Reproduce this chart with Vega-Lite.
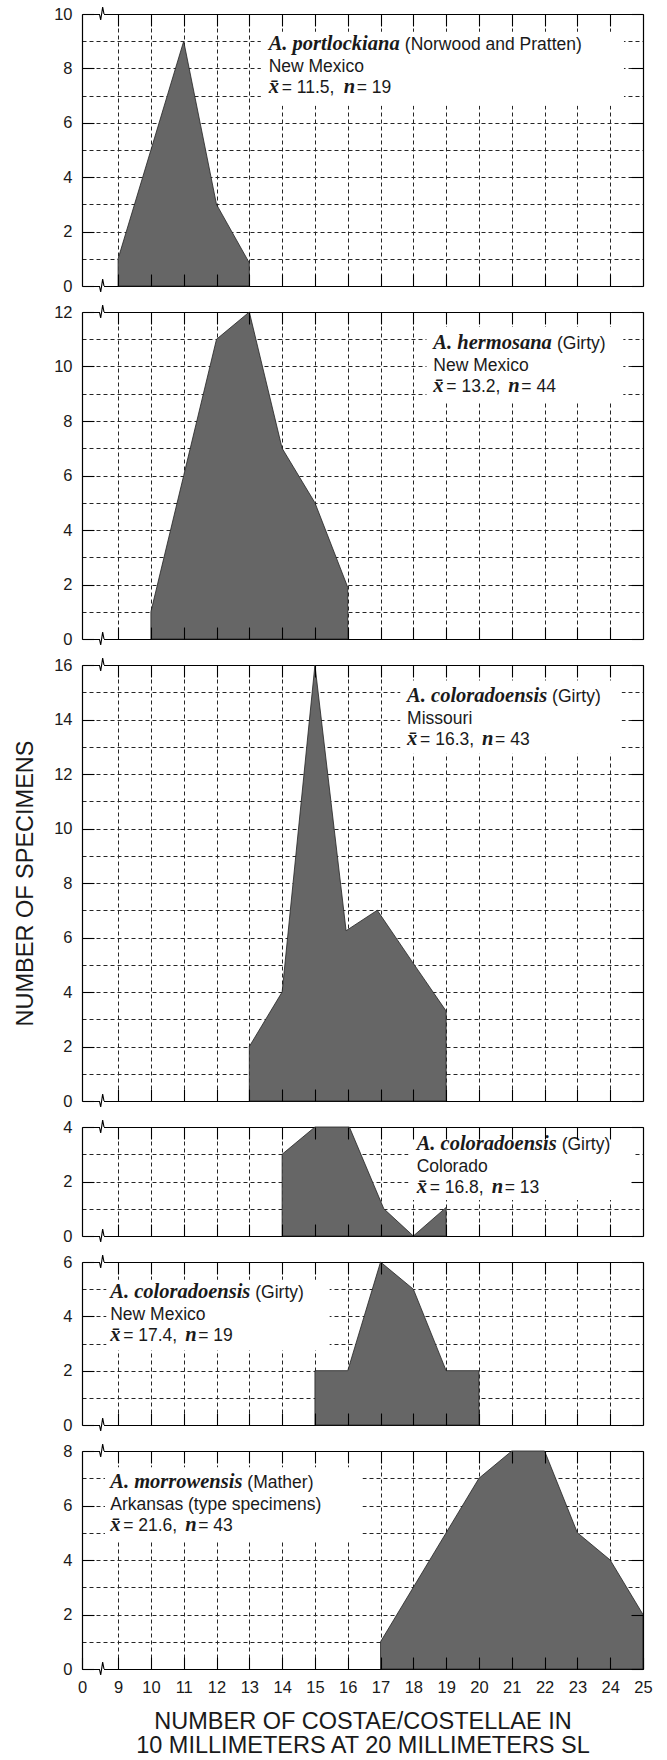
{
 "$schema": "https://vega.github.io/schema/vega-lite/v6.json",
 "background": "white",
 "padding": {"left": 13, "top": 5, "right": 5, "bottom": 5},
 "spacing": 26,
 "bounds": "flush",
 "datasets": {
  "dist": [
   {"p":1,"x":9,"c":1},{"p":1,"x":10,"c":5},{"p":1,"x":11,"c":9},{"p":1,"x":12,"c":3},{"p":1,"x":13,"c":0.85},
   {"p":2,"x":10,"c":1},{"p":2,"x":11,"c":6},{"p":2,"x":12,"c":11},{"p":2,"x":13,"c":12},{"p":2,"x":14,"c":7},{"p":2,"x":15,"c":5},{"p":2,"x":16,"c":1.9},
   {"p":3,"x":13,"c":2},{"p":3,"x":14,"c":4},{"p":3,"x":15,"c":16},{"p":3,"x":15.95,"c":6.25},{"p":3,"x":16.9,"c":7},{"p":3,"x":18,"c":5.05},{"p":3,"x":19,"c":3.3},
   {"p":4,"x":14,"c":3},{"p":4,"x":15,"c":4},{"p":4,"x":16.05,"c":4},{"p":4,"x":17.1,"c":1},{"p":4,"x":18,"c":0},{"p":4,"x":19,"c":1.05},
   {"p":5,"x":15,"c":2},{"p":5,"x":16,"c":2},{"p":5,"x":17,"c":6},{"p":5,"x":18,"c":5},{"p":5,"x":19,"c":2},{"p":5,"x":20,"c":2},
   {"p":6,"x":17,"c":1},{"p":6,"x":18,"c":3},{"p":6,"x":19,"c":5},{"p":6,"x":20,"c":7},{"p":6,"x":21,"c":8},{"p":6,"x":22,"c":8},{"p":6,"x":23,"c":5},{"p":6,"x":24,"c":4},{"p":6,"x":25,"c":2}
  ],
  "ann": [
   {"p":1,"sp":"A. portlockiana","au":"(Norwood and Pratten)","loc":"New Mexico","m":"= 11.5,","nn":"= 19","ax":13.59,"ay":8.69,"aux":17.74,"bx1":13.35,"bx2":24.42,"by1":6.63,"by2":9.35},
   {"p":2,"sp":"A. hermosana","au":"(Girty)","loc":"New Mexico","m":"= 13.2,","nn":"= 44","ax":18.61,"ay":10.63,"aux":22.38,"bx1":18.4,"bx2":24.4,"by1":8.73,"by2":11.45},
   {"p":3,"sp":"A. coloradoensis","au":"(Girty)","loc":"Missouri","m":"= 16.3,","nn":"= 43","ax":17.81,"ay":14.63,"aux":22.23,"bx1":17.6,"bx2":24.35,"by1":12.74,"by2":15.43},
   {"p":4,"sp":"A. coloradoensis","au":"(Girty)","loc":"Colorado","m":"= 16.8,","nn":"= 13","ax":18.1,"ay":3.17,"aux":22.52,"bx1":17.85,"bx2":24.7,"by1":1.32,"by2":3.55},
   {"p":5,"sp":"A. coloradoensis","au":"(Girty)","loc":"New Mexico","m":"= 17.4,","nn":"= 19","ax":8.76,"ay":4.68,"aux":13.18,"bx1":8.64,"bx2":15.45,"by1":2.75,"by2":5.35},
   {"p":6,"sp":"A. morrowensis","au":"(Mather)","loc":"Arkansas (type specimens)","m":"= 21.6,","nn":"= 43","ax":8.76,"ay":6.63,"aux":12.94,"bx1":8.6,"bx2":16.45,"by1":4.7,"by2":7.4}
  ]
 },
 "vconcat": [
  {
   "width": 561, "height": 272,
   "resolve": {"axis": {"x": "independent", "y": "independent"}},
   "layer": [
    {"data": {"name": "dist"}, "transform": [{"filter": "datum.p == 1"}], "mark": {"type": "area", "fill": "#666666", "stroke": "#222222", "strokeWidth": 0.8},
     "encoding": {
      "x": {"field": "x", "type": "quantitative", "scale": {"domain": [7.9,25], "nice": false, "zero": false}, "axis": {"orient": "bottom", "title": null, "values": [9,10,11,12,13,14,15,16,17,18,19,20,21,22,23,24], "grid": true, "gridDash": [4,3], "gridColor": "#262626", "gridWidth": 1, "ticks": false, "labels": false, "domain": true, "domainColor": "#000000", "domainWidth": 1.2, "zindex": 0}},
      "y": {"field": "c", "type": "quantitative", "scale": {"domain": [0,10], "nice": false, "zero": false}, "axis": {"orient": "left", "title": null, "values": [1,2,3,4,5,6,7,8,9], "grid": true, "gridDash": [4,3], "gridColor": "#262626", "gridWidth": 1, "ticks": false, "labels": false, "domain": false, "zindex": 0}}
     }},
    {"data": {"name": "ann"}, "transform": [{"filter": "datum.p == 1"}], "mark": {"type": "rect", "fill": "white"},
     "encoding": {
      "x": {"field": "bx1", "type": "quantitative", "scale": {"domain": [7.9,25], "nice": false, "zero": false}, "axis": {"orient": "top", "title": null, "grid": false, "ticks": false, "labels": false, "domain": true, "domainColor": "#000000", "domainWidth": 1.2, "zindex": 0}},
      "x2": {"field": "bx2"},
      "y": {"field": "by1", "type": "quantitative", "scale": {"domain": [0,10], "nice": false, "zero": false}, "axis": null},
      "y2": {"field": "by2"}
     }},
    {"data": {"name": "ann"}, "transform": [{"filter": "datum.p == 1"}], "mark": {"type": "text", "align": "left", "baseline": "alphabetic", "font": "Liberation Serif", "fontStyle": "italic", "fontWeight": "bold", "fontSize": 20.5, "color": "#1a1a1a"},
     "encoding": {
      "x": {"field": "ax", "type": "quantitative", "scale": {"domain": [7.9,25], "nice": false, "zero": false}, "axis": {"orient": "top", "title": null, "values": [9,10,11,12,13,14,15,16,17,18,19,20,21,22,23,24], "grid": false, "ticks": true, "tickSize": -12, "tickColor": "#000000", "tickWidth": 1.1, "labels": false, "domain": false, "zindex": 1}},
      "y": {"field": "ay", "type": "quantitative", "scale": {"domain": [0,10], "nice": false, "zero": false}, "axis": {"orient": "right", "title": null, "values": [0,2,4,6,8,10], "grid": false, "ticks": true, "tickSize": -12, "tickColor": "#000000", "tickWidth": 1.1, "labels": false, "domain": true, "domainColor": "#000000", "domainWidth": 1.2, "zindex": 1}},
      "text": {"field": "sp"}
     }},
    {"data": {"name": "ann"}, "transform": [{"filter": "datum.p == 1"}], "mark": {"type": "text", "align": "left", "baseline": "alphabetic", "font": "Liberation Sans", "fontSize": 17.5, "color": "#1a1a1a"},
     "encoding": {
      "x": {"field": "aux", "type": "quantitative", "scale": {"domain": [7.9,25], "nice": false, "zero": false}, "axis": {"orient": "bottom", "title": null, "values": [9,10,11,12,13,14,15,16,17,18,19,20,21,22,23,24], "grid": false, "ticks": true, "tickSize": -12, "tickColor": "#000000", "tickWidth": 1.1, "labels": false, "domain": false, "zindex": 1}},
      "y": {"field": "ay", "type": "quantitative", "scale": {"domain": [0,10], "nice": false, "zero": false}, "axis": {"orient": "left", "title": null, "values": [0,2,4,6,8,10], "grid": false, "ticks": true, "tickSize": -12, "tickColor": "#000000", "tickWidth": 1.1, "labels": true, "labelPadding": 22, "domain": true, "domainColor": "#000000", "domainWidth": 1.2, "zindex": 1}},
      "text": {"field": "au"}
     }},
    {"data": {"name": "ann"}, "transform": [{"filter": "datum.p == 1"}], "mark": {"type": "text", "align": "left", "baseline": "alphabetic", "font": "Liberation Sans", "fontSize": 17.5, "color": "#1a1a1a", "dy": 22},
     "encoding": {"x": {"field": "ax", "type": "quantitative", "scale": {"domain": [7.9,25], "nice": false, "zero": false}, "axis": null}, "y": {"field": "ay", "type": "quantitative", "scale": {"domain": [0,10], "nice": false, "zero": false}, "axis": null}, "text": {"field": "loc"}}},
    {"data": {"name": "ann"}, "transform": [{"filter": "datum.p == 1"}], "mark": {"type": "text", "align": "left", "baseline": "alphabetic", "font": "Liberation Serif", "fontStyle": "italic", "fontWeight": "bold", "fontSize": 20.5, "color": "#1a1a1a", "dy": 43},
     "encoding": {"x": {"field": "ax", "type": "quantitative", "scale": {"domain": [7.9,25], "nice": false, "zero": false}, "axis": null}, "y": {"field": "ay", "type": "quantitative", "scale": {"domain": [0,10], "nice": false, "zero": false}, "axis": null}, "text": {"value": "x̄"}}},
    {"data": {"name": "ann"}, "transform": [{"filter": "datum.p == 1"}], "mark": {"type": "text", "align": "left", "baseline": "alphabetic", "font": "Liberation Sans", "fontSize": 17.5, "color": "#1a1a1a", "dy": 43, "dx": 13},
     "encoding": {"x": {"field": "ax", "type": "quantitative", "scale": {"domain": [7.9,25], "nice": false, "zero": false}, "axis": null}, "y": {"field": "ay", "type": "quantitative", "scale": {"domain": [0,10], "nice": false, "zero": false}, "axis": null}, "text": {"field": "m"}}},
    {"data": {"name": "ann"}, "transform": [{"filter": "datum.p == 1"}], "mark": {"type": "text", "align": "left", "baseline": "alphabetic", "font": "Liberation Serif", "fontStyle": "italic", "fontWeight": "bold", "fontSize": 20.5, "color": "#1a1a1a", "dy": 43, "dx": 75},
     "encoding": {"x": {"field": "ax", "type": "quantitative", "scale": {"domain": [7.9,25], "nice": false, "zero": false}, "axis": null}, "y": {"field": "ay", "type": "quantitative", "scale": {"domain": [0,10], "nice": false, "zero": false}, "axis": null}, "text": {"value": "n"}}},
    {"data": {"name": "ann"}, "transform": [{"filter": "datum.p == 1"}], "mark": {"type": "text", "align": "left", "baseline": "alphabetic", "font": "Liberation Sans", "fontSize": 17.5, "color": "#1a1a1a", "dy": 43, "dx": 88},
     "encoding": {"x": {"field": "ax", "type": "quantitative", "scale": {"domain": [7.9,25], "nice": false, "zero": false}, "axis": null}, "y": {"field": "ay", "type": "quantitative", "scale": {"domain": [0,10], "nice": false, "zero": false}, "axis": null}, "text": {"field": "nn"}}},
    {"data": {"values": [{"y": 0}, {"y": 10}]}, "mark": {"type": "rule", "stroke": "white", "strokeWidth": 3},
     "encoding": {"x": {"datum": 8.43, "type": "quantitative", "scale": {"domain": [7.9,25], "nice": false, "zero": false}, "axis": null}, "x2": {"datum": 8.57}, "y": {"field": "y", "type": "quantitative", "scale": {"domain": [0,10], "nice": false, "zero": false}, "axis": null}}},
    {"data": {"values": [{"e":"b","x":8.43,"y":0},{"e":"b","x":8.47,"y":-0.22},{"e":"b","x":8.53,"y":0.25},{"e":"b","x":8.57,"y":0},{"e":"t","x":8.43,"y":10},{"e":"t","x":8.47,"y":9.78},{"e":"t","x":8.53,"y":10.25},{"e":"t","x":8.57,"y":10}]},
     "mark": {"type": "line", "stroke": "#000000", "strokeWidth": 1.1},
     "encoding": {"x": {"field": "x", "type": "quantitative", "scale": {"domain": [7.9,25], "nice": false, "zero": false}, "axis": null}, "y": {"field": "y", "type": "quantitative", "scale": {"domain": [0,10], "nice": false, "zero": false}, "axis": null}, "detail": {"field": "e"}}}
   ]
  },
  {
   "width": 561, "height": 327,
   "resolve": {"axis": {"x": "independent", "y": "independent"}},
   "layer": [
    {"data": {"name": "dist"}, "transform": [{"filter": "datum.p == 2"}], "mark": {"type": "area", "fill": "#666666", "stroke": "#222222", "strokeWidth": 0.8},
     "encoding": {
      "x": {"field": "x", "type": "quantitative", "scale": {"domain": [7.9,25], "nice": false, "zero": false}, "axis": {"orient": "bottom", "title": null, "values": [9,10,11,12,13,14,15,16,17,18,19,20,21,22,23,24], "grid": true, "gridDash": [4,3], "gridColor": "#262626", "gridWidth": 1, "ticks": false, "labels": false, "domain": true, "domainColor": "#000000", "domainWidth": 1.2, "zindex": 0}},
      "y": {"field": "c", "type": "quantitative", "scale": {"domain": [0,12], "nice": false, "zero": false}, "axis": {"orient": "left", "title": null, "values": [1,2,3,4,5,6,7,8,9,10,11], "grid": true, "gridDash": [4,3], "gridColor": "#262626", "gridWidth": 1, "ticks": false, "labels": false, "domain": false, "zindex": 0}}
     }},
    {"data": {"name": "ann"}, "transform": [{"filter": "datum.p == 2"}], "mark": {"type": "rect", "fill": "white"},
     "encoding": {
      "x": {"field": "bx1", "type": "quantitative", "scale": {"domain": [7.9,25], "nice": false, "zero": false}, "axis": {"orient": "top", "title": null, "grid": false, "ticks": false, "labels": false, "domain": true, "domainColor": "#000000", "domainWidth": 1.2, "zindex": 0}},
      "x2": {"field": "bx2"},
      "y": {"field": "by1", "type": "quantitative", "scale": {"domain": [0,12], "nice": false, "zero": false}, "axis": null},
      "y2": {"field": "by2"}
     }},
    {"data": {"name": "ann"}, "transform": [{"filter": "datum.p == 2"}], "mark": {"type": "text", "align": "left", "baseline": "alphabetic", "font": "Liberation Serif", "fontStyle": "italic", "fontWeight": "bold", "fontSize": 20.5, "color": "#1a1a1a"},
     "encoding": {
      "x": {"field": "ax", "type": "quantitative", "scale": {"domain": [7.9,25], "nice": false, "zero": false}, "axis": {"orient": "top", "title": null, "values": [9,10,11,12,13,14,15,16,17,18,19,20,21,22,23,24], "grid": false, "ticks": true, "tickSize": -12, "tickColor": "#000000", "tickWidth": 1.1, "labels": false, "domain": false, "zindex": 1}},
      "y": {"field": "ay", "type": "quantitative", "scale": {"domain": [0,12], "nice": false, "zero": false}, "axis": {"orient": "right", "title": null, "values": [0,2,4,6,8,10,12], "grid": false, "ticks": true, "tickSize": -12, "tickColor": "#000000", "tickWidth": 1.1, "labels": false, "domain": true, "domainColor": "#000000", "domainWidth": 1.2, "zindex": 1}},
      "text": {"field": "sp"}
     }},
    {"data": {"name": "ann"}, "transform": [{"filter": "datum.p == 2"}], "mark": {"type": "text", "align": "left", "baseline": "alphabetic", "font": "Liberation Sans", "fontSize": 17.5, "color": "#1a1a1a"},
     "encoding": {
      "x": {"field": "aux", "type": "quantitative", "scale": {"domain": [7.9,25], "nice": false, "zero": false}, "axis": {"orient": "bottom", "title": null, "values": [9,10,11,12,13,14,15,16,17,18,19,20,21,22,23,24], "grid": false, "ticks": true, "tickSize": -12, "tickColor": "#000000", "tickWidth": 1.1, "labels": false, "domain": false, "zindex": 1}},
      "y": {"field": "ay", "type": "quantitative", "scale": {"domain": [0,12], "nice": false, "zero": false}, "axis": {"orient": "left", "title": null, "values": [0,2,4,6,8,10,12], "grid": false, "ticks": true, "tickSize": -12, "tickColor": "#000000", "tickWidth": 1.1, "labels": true, "labelPadding": 22, "domain": true, "domainColor": "#000000", "domainWidth": 1.2, "zindex": 1}},
      "text": {"field": "au"}
     }},
    {"data": {"name": "ann"}, "transform": [{"filter": "datum.p == 2"}], "mark": {"type": "text", "align": "left", "baseline": "alphabetic", "font": "Liberation Sans", "fontSize": 17.5, "color": "#1a1a1a", "dy": 22},
     "encoding": {"x": {"field": "ax", "type": "quantitative", "scale": {"domain": [7.9,25], "nice": false, "zero": false}, "axis": null}, "y": {"field": "ay", "type": "quantitative", "scale": {"domain": [0,12], "nice": false, "zero": false}, "axis": null}, "text": {"field": "loc"}}},
    {"data": {"name": "ann"}, "transform": [{"filter": "datum.p == 2"}], "mark": {"type": "text", "align": "left", "baseline": "alphabetic", "font": "Liberation Serif", "fontStyle": "italic", "fontWeight": "bold", "fontSize": 20.5, "color": "#1a1a1a", "dy": 43},
     "encoding": {"x": {"field": "ax", "type": "quantitative", "scale": {"domain": [7.9,25], "nice": false, "zero": false}, "axis": null}, "y": {"field": "ay", "type": "quantitative", "scale": {"domain": [0,12], "nice": false, "zero": false}, "axis": null}, "text": {"value": "x̄"}}},
    {"data": {"name": "ann"}, "transform": [{"filter": "datum.p == 2"}], "mark": {"type": "text", "align": "left", "baseline": "alphabetic", "font": "Liberation Sans", "fontSize": 17.5, "color": "#1a1a1a", "dy": 43, "dx": 13},
     "encoding": {"x": {"field": "ax", "type": "quantitative", "scale": {"domain": [7.9,25], "nice": false, "zero": false}, "axis": null}, "y": {"field": "ay", "type": "quantitative", "scale": {"domain": [0,12], "nice": false, "zero": false}, "axis": null}, "text": {"field": "m"}}},
    {"data": {"name": "ann"}, "transform": [{"filter": "datum.p == 2"}], "mark": {"type": "text", "align": "left", "baseline": "alphabetic", "font": "Liberation Serif", "fontStyle": "italic", "fontWeight": "bold", "fontSize": 20.5, "color": "#1a1a1a", "dy": 43, "dx": 75},
     "encoding": {"x": {"field": "ax", "type": "quantitative", "scale": {"domain": [7.9,25], "nice": false, "zero": false}, "axis": null}, "y": {"field": "ay", "type": "quantitative", "scale": {"domain": [0,12], "nice": false, "zero": false}, "axis": null}, "text": {"value": "n"}}},
    {"data": {"name": "ann"}, "transform": [{"filter": "datum.p == 2"}], "mark": {"type": "text", "align": "left", "baseline": "alphabetic", "font": "Liberation Sans", "fontSize": 17.5, "color": "#1a1a1a", "dy": 43, "dx": 88},
     "encoding": {"x": {"field": "ax", "type": "quantitative", "scale": {"domain": [7.9,25], "nice": false, "zero": false}, "axis": null}, "y": {"field": "ay", "type": "quantitative", "scale": {"domain": [0,12], "nice": false, "zero": false}, "axis": null}, "text": {"field": "nn"}}},
    {"data": {"values": [{"y": 0}, {"y": 12}]}, "mark": {"type": "rule", "stroke": "white", "strokeWidth": 3},
     "encoding": {"x": {"datum": 8.43, "type": "quantitative", "scale": {"domain": [7.9,25], "nice": false, "zero": false}, "axis": null}, "x2": {"datum": 8.57}, "y": {"field": "y", "type": "quantitative", "scale": {"domain": [0,12], "nice": false, "zero": false}, "axis": null}}},
    {"data": {"values": [{"e":"b","x":8.43,"y":0},{"e":"b","x":8.47,"y":-0.22},{"e":"b","x":8.53,"y":0.25},{"e":"b","x":8.57,"y":0},{"e":"t","x":8.43,"y":12},{"e":"t","x":8.47,"y":11.78},{"e":"t","x":8.53,"y":12.25},{"e":"t","x":8.57,"y":12}]},
     "mark": {"type": "line", "stroke": "#000000", "strokeWidth": 1.1},
     "encoding": {"x": {"field": "x", "type": "quantitative", "scale": {"domain": [7.9,25], "nice": false, "zero": false}, "axis": null}, "y": {"field": "y", "type": "quantitative", "scale": {"domain": [0,12], "nice": false, "zero": false}, "axis": null}, "detail": {"field": "e"}}}
   ]
  },
  {
   "width": 561, "height": 436,
   "resolve": {"axis": {"x": "independent", "y": "independent"}},
   "layer": [
    {"data": {"name": "dist"}, "transform": [{"filter": "datum.p == 3"}], "mark": {"type": "area", "fill": "#666666", "stroke": "#222222", "strokeWidth": 0.8},
     "encoding": {
      "x": {"field": "x", "type": "quantitative", "scale": {"domain": [7.9,25], "nice": false, "zero": false}, "axis": {"orient": "bottom", "title": null, "values": [9,10,11,12,13,14,15,16,17,18,19,20,21,22,23,24], "grid": true, "gridDash": [4,3], "gridColor": "#262626", "gridWidth": 1, "ticks": false, "labels": false, "domain": true, "domainColor": "#000000", "domainWidth": 1.2, "zindex": 0}},
      "y": {"field": "c", "type": "quantitative", "scale": {"domain": [0,16], "nice": false, "zero": false}, "axis": {"orient": "left", "title": null, "values": [1,2,3,4,5,6,7,8,9,10,11,12,13,14,15], "grid": true, "gridDash": [4,3], "gridColor": "#262626", "gridWidth": 1, "ticks": false, "labels": false, "domain": false, "zindex": 0}}
     }},
    {"data": {"name": "ann"}, "transform": [{"filter": "datum.p == 3"}], "mark": {"type": "rect", "fill": "white"},
     "encoding": {
      "x": {"field": "bx1", "type": "quantitative", "scale": {"domain": [7.9,25], "nice": false, "zero": false}, "axis": {"orient": "top", "title": null, "grid": false, "ticks": false, "labels": false, "domain": true, "domainColor": "#000000", "domainWidth": 1.2, "zindex": 0}},
      "x2": {"field": "bx2"},
      "y": {"field": "by1", "type": "quantitative", "scale": {"domain": [0,16], "nice": false, "zero": false}, "axis": null},
      "y2": {"field": "by2"}
     }},
    {"data": {"name": "ann"}, "transform": [{"filter": "datum.p == 3"}], "mark": {"type": "text", "align": "left", "baseline": "alphabetic", "font": "Liberation Serif", "fontStyle": "italic", "fontWeight": "bold", "fontSize": 20.5, "color": "#1a1a1a"},
     "encoding": {
      "x": {"field": "ax", "type": "quantitative", "scale": {"domain": [7.9,25], "nice": false, "zero": false}, "axis": {"orient": "top", "title": null, "values": [9,10,11,12,13,14,15,16,17,18,19,20,21,22,23,24], "grid": false, "ticks": true, "tickSize": -12, "tickColor": "#000000", "tickWidth": 1.1, "labels": false, "domain": false, "zindex": 1}},
      "y": {"field": "ay", "type": "quantitative", "scale": {"domain": [0,16], "nice": false, "zero": false}, "axis": {"orient": "right", "title": null, "values": [0,2,4,6,8,10,12,14,16], "grid": false, "ticks": true, "tickSize": -12, "tickColor": "#000000", "tickWidth": 1.1, "labels": false, "domain": true, "domainColor": "#000000", "domainWidth": 1.2, "zindex": 1}},
      "text": {"field": "sp"}
     }},
    {"data": {"name": "ann"}, "transform": [{"filter": "datum.p == 3"}], "mark": {"type": "text", "align": "left", "baseline": "alphabetic", "font": "Liberation Sans", "fontSize": 17.5, "color": "#1a1a1a"},
     "encoding": {
      "x": {"field": "aux", "type": "quantitative", "scale": {"domain": [7.9,25], "nice": false, "zero": false}, "axis": {"orient": "bottom", "title": null, "values": [9,10,11,12,13,14,15,16,17,18,19,20,21,22,23,24], "grid": false, "ticks": true, "tickSize": -12, "tickColor": "#000000", "tickWidth": 1.1, "labels": false, "domain": false, "zindex": 1}},
      "y": {"field": "ay", "type": "quantitative", "scale": {"domain": [0,16], "nice": false, "zero": false}, "axis": {"orient": "left", "title": "NUMBER OF SPECIMENS", "titlePadding": 16, "titleFontSize": 23.5, "values": [0,2,4,6,8,10,12,14,16], "grid": false, "ticks": true, "tickSize": -12, "tickColor": "#000000", "tickWidth": 1.1, "labels": true, "labelPadding": 22, "domain": true, "domainColor": "#000000", "domainWidth": 1.2, "zindex": 1}},
      "text": {"field": "au"}
     }},
    {"data": {"name": "ann"}, "transform": [{"filter": "datum.p == 3"}], "mark": {"type": "text", "align": "left", "baseline": "alphabetic", "font": "Liberation Sans", "fontSize": 17.5, "color": "#1a1a1a", "dy": 22},
     "encoding": {"x": {"field": "ax", "type": "quantitative", "scale": {"domain": [7.9,25], "nice": false, "zero": false}, "axis": null}, "y": {"field": "ay", "type": "quantitative", "scale": {"domain": [0,16], "nice": false, "zero": false}, "axis": null}, "text": {"field": "loc"}}},
    {"data": {"name": "ann"}, "transform": [{"filter": "datum.p == 3"}], "mark": {"type": "text", "align": "left", "baseline": "alphabetic", "font": "Liberation Serif", "fontStyle": "italic", "fontWeight": "bold", "fontSize": 20.5, "color": "#1a1a1a", "dy": 43},
     "encoding": {"x": {"field": "ax", "type": "quantitative", "scale": {"domain": [7.9,25], "nice": false, "zero": false}, "axis": null}, "y": {"field": "ay", "type": "quantitative", "scale": {"domain": [0,16], "nice": false, "zero": false}, "axis": null}, "text": {"value": "x̄"}}},
    {"data": {"name": "ann"}, "transform": [{"filter": "datum.p == 3"}], "mark": {"type": "text", "align": "left", "baseline": "alphabetic", "font": "Liberation Sans", "fontSize": 17.5, "color": "#1a1a1a", "dy": 43, "dx": 13},
     "encoding": {"x": {"field": "ax", "type": "quantitative", "scale": {"domain": [7.9,25], "nice": false, "zero": false}, "axis": null}, "y": {"field": "ay", "type": "quantitative", "scale": {"domain": [0,16], "nice": false, "zero": false}, "axis": null}, "text": {"field": "m"}}},
    {"data": {"name": "ann"}, "transform": [{"filter": "datum.p == 3"}], "mark": {"type": "text", "align": "left", "baseline": "alphabetic", "font": "Liberation Serif", "fontStyle": "italic", "fontWeight": "bold", "fontSize": 20.5, "color": "#1a1a1a", "dy": 43, "dx": 75},
     "encoding": {"x": {"field": "ax", "type": "quantitative", "scale": {"domain": [7.9,25], "nice": false, "zero": false}, "axis": null}, "y": {"field": "ay", "type": "quantitative", "scale": {"domain": [0,16], "nice": false, "zero": false}, "axis": null}, "text": {"value": "n"}}},
    {"data": {"name": "ann"}, "transform": [{"filter": "datum.p == 3"}], "mark": {"type": "text", "align": "left", "baseline": "alphabetic", "font": "Liberation Sans", "fontSize": 17.5, "color": "#1a1a1a", "dy": 43, "dx": 88},
     "encoding": {"x": {"field": "ax", "type": "quantitative", "scale": {"domain": [7.9,25], "nice": false, "zero": false}, "axis": null}, "y": {"field": "ay", "type": "quantitative", "scale": {"domain": [0,16], "nice": false, "zero": false}, "axis": null}, "text": {"field": "nn"}}},
    {"data": {"values": [{"y": 0}, {"y": 16}]}, "mark": {"type": "rule", "stroke": "white", "strokeWidth": 3},
     "encoding": {"x": {"datum": 8.43, "type": "quantitative", "scale": {"domain": [7.9,25], "nice": false, "zero": false}, "axis": null}, "x2": {"datum": 8.57}, "y": {"field": "y", "type": "quantitative", "scale": {"domain": [0,16], "nice": false, "zero": false}, "axis": null}}},
    {"data": {"values": [{"e":"b","x":8.43,"y":0},{"e":"b","x":8.47,"y":-0.22},{"e":"b","x":8.53,"y":0.25},{"e":"b","x":8.57,"y":0},{"e":"t","x":8.43,"y":16},{"e":"t","x":8.47,"y":15.78},{"e":"t","x":8.53,"y":16.25},{"e":"t","x":8.57,"y":16}]},
     "mark": {"type": "line", "stroke": "#000000", "strokeWidth": 1.1},
     "encoding": {"x": {"field": "x", "type": "quantitative", "scale": {"domain": [7.9,25], "nice": false, "zero": false}, "axis": null}, "y": {"field": "y", "type": "quantitative", "scale": {"domain": [0,16], "nice": false, "zero": false}, "axis": null}, "detail": {"field": "e"}}}
   ]
  },
  {
   "width": 561, "height": 109,
   "resolve": {"axis": {"x": "independent", "y": "independent"}},
   "layer": [
    {"data": {"name": "dist"}, "transform": [{"filter": "datum.p == 4"}], "mark": {"type": "area", "fill": "#666666", "stroke": "#222222", "strokeWidth": 0.8},
     "encoding": {
      "x": {"field": "x", "type": "quantitative", "scale": {"domain": [7.9,25], "nice": false, "zero": false}, "axis": {"orient": "bottom", "title": null, "values": [9,10,11,12,13,14,15,16,17,18,19,20,21,22,23,24], "grid": true, "gridDash": [4,3], "gridColor": "#262626", "gridWidth": 1, "ticks": false, "labels": false, "domain": true, "domainColor": "#000000", "domainWidth": 1.2, "zindex": 0}},
      "y": {"field": "c", "type": "quantitative", "scale": {"domain": [0,4], "nice": false, "zero": false}, "axis": {"orient": "left", "title": null, "values": [1,2,3], "grid": true, "gridDash": [4,3], "gridColor": "#262626", "gridWidth": 1, "ticks": false, "labels": false, "domain": false, "zindex": 0}}
     }},
    {"data": {"name": "ann"}, "transform": [{"filter": "datum.p == 4"}], "mark": {"type": "rect", "fill": "white"},
     "encoding": {
      "x": {"field": "bx1", "type": "quantitative", "scale": {"domain": [7.9,25], "nice": false, "zero": false}, "axis": {"orient": "top", "title": null, "grid": false, "ticks": false, "labels": false, "domain": true, "domainColor": "#000000", "domainWidth": 1.2, "zindex": 0}},
      "x2": {"field": "bx2"},
      "y": {"field": "by1", "type": "quantitative", "scale": {"domain": [0,4], "nice": false, "zero": false}, "axis": null},
      "y2": {"field": "by2"}
     }},
    {"data": {"name": "ann"}, "transform": [{"filter": "datum.p == 4"}], "mark": {"type": "text", "align": "left", "baseline": "alphabetic", "font": "Liberation Serif", "fontStyle": "italic", "fontWeight": "bold", "fontSize": 20.5, "color": "#1a1a1a"},
     "encoding": {
      "x": {"field": "ax", "type": "quantitative", "scale": {"domain": [7.9,25], "nice": false, "zero": false}, "axis": {"orient": "top", "title": null, "values": [9,10,11,12,13,14,15,16,17,18,19,20,21,22,23,24], "grid": false, "ticks": true, "tickSize": -12, "tickColor": "#000000", "tickWidth": 1.1, "labels": false, "domain": false, "zindex": 1}},
      "y": {"field": "ay", "type": "quantitative", "scale": {"domain": [0,4], "nice": false, "zero": false}, "axis": {"orient": "right", "title": null, "values": [0,2,4], "grid": false, "ticks": true, "tickSize": -12, "tickColor": "#000000", "tickWidth": 1.1, "labels": false, "domain": true, "domainColor": "#000000", "domainWidth": 1.2, "zindex": 1}},
      "text": {"field": "sp"}
     }},
    {"data": {"name": "ann"}, "transform": [{"filter": "datum.p == 4"}], "mark": {"type": "text", "align": "left", "baseline": "alphabetic", "font": "Liberation Sans", "fontSize": 17.5, "color": "#1a1a1a"},
     "encoding": {
      "x": {"field": "aux", "type": "quantitative", "scale": {"domain": [7.9,25], "nice": false, "zero": false}, "axis": {"orient": "bottom", "title": null, "values": [9,10,11,12,13,14,15,16,17,18,19,20,21,22,23,24], "grid": false, "ticks": true, "tickSize": -12, "tickColor": "#000000", "tickWidth": 1.1, "labels": false, "domain": false, "zindex": 1}},
      "y": {"field": "ay", "type": "quantitative", "scale": {"domain": [0,4], "nice": false, "zero": false}, "axis": {"orient": "left", "title": null, "values": [0,2,4], "grid": false, "ticks": true, "tickSize": -12, "tickColor": "#000000", "tickWidth": 1.1, "labels": true, "labelPadding": 22, "domain": true, "domainColor": "#000000", "domainWidth": 1.2, "zindex": 1}},
      "text": {"field": "au"}
     }},
    {"data": {"name": "ann"}, "transform": [{"filter": "datum.p == 4"}], "mark": {"type": "text", "align": "left", "baseline": "alphabetic", "font": "Liberation Sans", "fontSize": 17.5, "color": "#1a1a1a", "dy": 22},
     "encoding": {"x": {"field": "ax", "type": "quantitative", "scale": {"domain": [7.9,25], "nice": false, "zero": false}, "axis": null}, "y": {"field": "ay", "type": "quantitative", "scale": {"domain": [0,4], "nice": false, "zero": false}, "axis": null}, "text": {"field": "loc"}}},
    {"data": {"name": "ann"}, "transform": [{"filter": "datum.p == 4"}], "mark": {"type": "text", "align": "left", "baseline": "alphabetic", "font": "Liberation Serif", "fontStyle": "italic", "fontWeight": "bold", "fontSize": 20.5, "color": "#1a1a1a", "dy": 43},
     "encoding": {"x": {"field": "ax", "type": "quantitative", "scale": {"domain": [7.9,25], "nice": false, "zero": false}, "axis": null}, "y": {"field": "ay", "type": "quantitative", "scale": {"domain": [0,4], "nice": false, "zero": false}, "axis": null}, "text": {"value": "x̄"}}},
    {"data": {"name": "ann"}, "transform": [{"filter": "datum.p == 4"}], "mark": {"type": "text", "align": "left", "baseline": "alphabetic", "font": "Liberation Sans", "fontSize": 17.5, "color": "#1a1a1a", "dy": 43, "dx": 13},
     "encoding": {"x": {"field": "ax", "type": "quantitative", "scale": {"domain": [7.9,25], "nice": false, "zero": false}, "axis": null}, "y": {"field": "ay", "type": "quantitative", "scale": {"domain": [0,4], "nice": false, "zero": false}, "axis": null}, "text": {"field": "m"}}},
    {"data": {"name": "ann"}, "transform": [{"filter": "datum.p == 4"}], "mark": {"type": "text", "align": "left", "baseline": "alphabetic", "font": "Liberation Serif", "fontStyle": "italic", "fontWeight": "bold", "fontSize": 20.5, "color": "#1a1a1a", "dy": 43, "dx": 75},
     "encoding": {"x": {"field": "ax", "type": "quantitative", "scale": {"domain": [7.9,25], "nice": false, "zero": false}, "axis": null}, "y": {"field": "ay", "type": "quantitative", "scale": {"domain": [0,4], "nice": false, "zero": false}, "axis": null}, "text": {"value": "n"}}},
    {"data": {"name": "ann"}, "transform": [{"filter": "datum.p == 4"}], "mark": {"type": "text", "align": "left", "baseline": "alphabetic", "font": "Liberation Sans", "fontSize": 17.5, "color": "#1a1a1a", "dy": 43, "dx": 88},
     "encoding": {"x": {"field": "ax", "type": "quantitative", "scale": {"domain": [7.9,25], "nice": false, "zero": false}, "axis": null}, "y": {"field": "ay", "type": "quantitative", "scale": {"domain": [0,4], "nice": false, "zero": false}, "axis": null}, "text": {"field": "nn"}}},
    {"data": {"values": [{"y": 0}, {"y": 4}]}, "mark": {"type": "rule", "stroke": "white", "strokeWidth": 3},
     "encoding": {"x": {"datum": 8.43, "type": "quantitative", "scale": {"domain": [7.9,25], "nice": false, "zero": false}, "axis": null}, "x2": {"datum": 8.57}, "y": {"field": "y", "type": "quantitative", "scale": {"domain": [0,4], "nice": false, "zero": false}, "axis": null}}},
    {"data": {"values": [{"e":"b","x":8.43,"y":0},{"e":"b","x":8.47,"y":-0.22},{"e":"b","x":8.53,"y":0.25},{"e":"b","x":8.57,"y":0},{"e":"t","x":8.43,"y":4},{"e":"t","x":8.47,"y":3.78},{"e":"t","x":8.53,"y":4.25},{"e":"t","x":8.57,"y":4}]},
     "mark": {"type": "line", "stroke": "#000000", "strokeWidth": 1.1},
     "encoding": {"x": {"field": "x", "type": "quantitative", "scale": {"domain": [7.9,25], "nice": false, "zero": false}, "axis": null}, "y": {"field": "y", "type": "quantitative", "scale": {"domain": [0,4], "nice": false, "zero": false}, "axis": null}, "detail": {"field": "e"}}}
   ]
  },
  {
   "width": 561, "height": 163,
   "resolve": {"axis": {"x": "independent", "y": "independent"}},
   "layer": [
    {"data": {"name": "dist"}, "transform": [{"filter": "datum.p == 5"}], "mark": {"type": "area", "fill": "#666666", "stroke": "#222222", "strokeWidth": 0.8},
     "encoding": {
      "x": {"field": "x", "type": "quantitative", "scale": {"domain": [7.9,25], "nice": false, "zero": false}, "axis": {"orient": "bottom", "title": null, "values": [9,10,11,12,13,14,15,16,17,18,19,20,21,22,23,24], "grid": true, "gridDash": [4,3], "gridColor": "#262626", "gridWidth": 1, "ticks": false, "labels": false, "domain": true, "domainColor": "#000000", "domainWidth": 1.2, "zindex": 0}},
      "y": {"field": "c", "type": "quantitative", "scale": {"domain": [0,6], "nice": false, "zero": false}, "axis": {"orient": "left", "title": null, "values": [1,2,3,4,5], "grid": true, "gridDash": [4,3], "gridColor": "#262626", "gridWidth": 1, "ticks": false, "labels": false, "domain": false, "zindex": 0}}
     }},
    {"data": {"name": "ann"}, "transform": [{"filter": "datum.p == 5"}], "mark": {"type": "rect", "fill": "white"},
     "encoding": {
      "x": {"field": "bx1", "type": "quantitative", "scale": {"domain": [7.9,25], "nice": false, "zero": false}, "axis": {"orient": "top", "title": null, "grid": false, "ticks": false, "labels": false, "domain": true, "domainColor": "#000000", "domainWidth": 1.2, "zindex": 0}},
      "x2": {"field": "bx2"},
      "y": {"field": "by1", "type": "quantitative", "scale": {"domain": [0,6], "nice": false, "zero": false}, "axis": null},
      "y2": {"field": "by2"}
     }},
    {"data": {"name": "ann"}, "transform": [{"filter": "datum.p == 5"}], "mark": {"type": "text", "align": "left", "baseline": "alphabetic", "font": "Liberation Serif", "fontStyle": "italic", "fontWeight": "bold", "fontSize": 20.5, "color": "#1a1a1a"},
     "encoding": {
      "x": {"field": "ax", "type": "quantitative", "scale": {"domain": [7.9,25], "nice": false, "zero": false}, "axis": {"orient": "top", "title": null, "values": [9,10,11,12,13,14,15,16,17,18,19,20,21,22,23,24], "grid": false, "ticks": true, "tickSize": -12, "tickColor": "#000000", "tickWidth": 1.1, "labels": false, "domain": false, "zindex": 1}},
      "y": {"field": "ay", "type": "quantitative", "scale": {"domain": [0,6], "nice": false, "zero": false}, "axis": {"orient": "right", "title": null, "values": [0,2,4,6], "grid": false, "ticks": true, "tickSize": -12, "tickColor": "#000000", "tickWidth": 1.1, "labels": false, "domain": true, "domainColor": "#000000", "domainWidth": 1.2, "zindex": 1}},
      "text": {"field": "sp"}
     }},
    {"data": {"name": "ann"}, "transform": [{"filter": "datum.p == 5"}], "mark": {"type": "text", "align": "left", "baseline": "alphabetic", "font": "Liberation Sans", "fontSize": 17.5, "color": "#1a1a1a"},
     "encoding": {
      "x": {"field": "aux", "type": "quantitative", "scale": {"domain": [7.9,25], "nice": false, "zero": false}, "axis": {"orient": "bottom", "title": null, "values": [9,10,11,12,13,14,15,16,17,18,19,20,21,22,23,24], "grid": false, "ticks": true, "tickSize": -12, "tickColor": "#000000", "tickWidth": 1.1, "labels": false, "domain": false, "zindex": 1}},
      "y": {"field": "ay", "type": "quantitative", "scale": {"domain": [0,6], "nice": false, "zero": false}, "axis": {"orient": "left", "title": null, "values": [0,2,4,6], "grid": false, "ticks": true, "tickSize": -12, "tickColor": "#000000", "tickWidth": 1.1, "labels": true, "labelPadding": 22, "domain": true, "domainColor": "#000000", "domainWidth": 1.2, "zindex": 1}},
      "text": {"field": "au"}
     }},
    {"data": {"name": "ann"}, "transform": [{"filter": "datum.p == 5"}], "mark": {"type": "text", "align": "left", "baseline": "alphabetic", "font": "Liberation Sans", "fontSize": 17.5, "color": "#1a1a1a", "dy": 22},
     "encoding": {"x": {"field": "ax", "type": "quantitative", "scale": {"domain": [7.9,25], "nice": false, "zero": false}, "axis": null}, "y": {"field": "ay", "type": "quantitative", "scale": {"domain": [0,6], "nice": false, "zero": false}, "axis": null}, "text": {"field": "loc"}}},
    {"data": {"name": "ann"}, "transform": [{"filter": "datum.p == 5"}], "mark": {"type": "text", "align": "left", "baseline": "alphabetic", "font": "Liberation Serif", "fontStyle": "italic", "fontWeight": "bold", "fontSize": 20.5, "color": "#1a1a1a", "dy": 43},
     "encoding": {"x": {"field": "ax", "type": "quantitative", "scale": {"domain": [7.9,25], "nice": false, "zero": false}, "axis": null}, "y": {"field": "ay", "type": "quantitative", "scale": {"domain": [0,6], "nice": false, "zero": false}, "axis": null}, "text": {"value": "x̄"}}},
    {"data": {"name": "ann"}, "transform": [{"filter": "datum.p == 5"}], "mark": {"type": "text", "align": "left", "baseline": "alphabetic", "font": "Liberation Sans", "fontSize": 17.5, "color": "#1a1a1a", "dy": 43, "dx": 13},
     "encoding": {"x": {"field": "ax", "type": "quantitative", "scale": {"domain": [7.9,25], "nice": false, "zero": false}, "axis": null}, "y": {"field": "ay", "type": "quantitative", "scale": {"domain": [0,6], "nice": false, "zero": false}, "axis": null}, "text": {"field": "m"}}},
    {"data": {"name": "ann"}, "transform": [{"filter": "datum.p == 5"}], "mark": {"type": "text", "align": "left", "baseline": "alphabetic", "font": "Liberation Serif", "fontStyle": "italic", "fontWeight": "bold", "fontSize": 20.5, "color": "#1a1a1a", "dy": 43, "dx": 75},
     "encoding": {"x": {"field": "ax", "type": "quantitative", "scale": {"domain": [7.9,25], "nice": false, "zero": false}, "axis": null}, "y": {"field": "ay", "type": "quantitative", "scale": {"domain": [0,6], "nice": false, "zero": false}, "axis": null}, "text": {"value": "n"}}},
    {"data": {"name": "ann"}, "transform": [{"filter": "datum.p == 5"}], "mark": {"type": "text", "align": "left", "baseline": "alphabetic", "font": "Liberation Sans", "fontSize": 17.5, "color": "#1a1a1a", "dy": 43, "dx": 88},
     "encoding": {"x": {"field": "ax", "type": "quantitative", "scale": {"domain": [7.9,25], "nice": false, "zero": false}, "axis": null}, "y": {"field": "ay", "type": "quantitative", "scale": {"domain": [0,6], "nice": false, "zero": false}, "axis": null}, "text": {"field": "nn"}}},
    {"data": {"values": [{"y": 0}, {"y": 6}]}, "mark": {"type": "rule", "stroke": "white", "strokeWidth": 3},
     "encoding": {"x": {"datum": 8.43, "type": "quantitative", "scale": {"domain": [7.9,25], "nice": false, "zero": false}, "axis": null}, "x2": {"datum": 8.57}, "y": {"field": "y", "type": "quantitative", "scale": {"domain": [0,6], "nice": false, "zero": false}, "axis": null}}},
    {"data": {"values": [{"e":"b","x":8.43,"y":0},{"e":"b","x":8.47,"y":-0.22},{"e":"b","x":8.53,"y":0.25},{"e":"b","x":8.57,"y":0},{"e":"t","x":8.43,"y":6},{"e":"t","x":8.47,"y":5.78},{"e":"t","x":8.53,"y":6.25},{"e":"t","x":8.57,"y":6}]},
     "mark": {"type": "line", "stroke": "#000000", "strokeWidth": 1.1},
     "encoding": {"x": {"field": "x", "type": "quantitative", "scale": {"domain": [7.9,25], "nice": false, "zero": false}, "axis": null}, "y": {"field": "y", "type": "quantitative", "scale": {"domain": [0,6], "nice": false, "zero": false}, "axis": null}, "detail": {"field": "e"}}}
   ]
  },
  {
   "width": 561, "height": 218,
   "resolve": {"axis": {"x": "independent", "y": "independent"}},
   "layer": [
    {"data": {"name": "dist"}, "transform": [{"filter": "datum.p == 6"}], "mark": {"type": "area", "fill": "#666666", "stroke": "#222222", "strokeWidth": 0.8},
     "encoding": {
      "x": {"field": "x", "type": "quantitative", "scale": {"domain": [7.9,25], "nice": false, "zero": false}, "axis": {"orient": "bottom", "title": null, "values": [9,10,11,12,13,14,15,16,17,18,19,20,21,22,23,24], "grid": true, "gridDash": [4,3], "gridColor": "#262626", "gridWidth": 1, "ticks": false, "labels": false, "domain": true, "domainColor": "#000000", "domainWidth": 1.2, "zindex": 0}},
      "y": {"field": "c", "type": "quantitative", "scale": {"domain": [0,8], "nice": false, "zero": false}, "axis": {"orient": "left", "title": null, "values": [1,2,3,4,5,6,7], "grid": true, "gridDash": [4,3], "gridColor": "#262626", "gridWidth": 1, "ticks": false, "labels": false, "domain": false, "zindex": 0}}
     }},
    {"data": {"name": "ann"}, "transform": [{"filter": "datum.p == 6"}], "mark": {"type": "rect", "fill": "white"},
     "encoding": {
      "x": {"field": "bx1", "type": "quantitative", "scale": {"domain": [7.9,25], "nice": false, "zero": false}, "axis": {"orient": "top", "title": null, "grid": false, "ticks": false, "labels": false, "domain": true, "domainColor": "#000000", "domainWidth": 1.2, "zindex": 0}},
      "x2": {"field": "bx2"},
      "y": {"field": "by1", "type": "quantitative", "scale": {"domain": [0,8], "nice": false, "zero": false}, "axis": null},
      "y2": {"field": "by2"}
     }},
    {"data": {"name": "ann"}, "transform": [{"filter": "datum.p == 6"}], "mark": {"type": "text", "align": "left", "baseline": "alphabetic", "font": "Liberation Serif", "fontStyle": "italic", "fontWeight": "bold", "fontSize": 20.5, "color": "#1a1a1a"},
     "encoding": {
      "x": {"field": "ax", "type": "quantitative", "scale": {"domain": [7.9,25], "nice": false, "zero": false}, "axis": {"orient": "top", "title": null, "values": [9,10,11,12,13,14,15,16,17,18,19,20,21,22,23,24], "grid": false, "ticks": true, "tickSize": -12, "tickColor": "#000000", "tickWidth": 1.1, "labels": false, "domain": false, "zindex": 1}},
      "y": {"field": "ay", "type": "quantitative", "scale": {"domain": [0,8], "nice": false, "zero": false}, "axis": {"orient": "right", "title": null, "values": [0,2,4,6,8], "grid": false, "ticks": true, "tickSize": -12, "tickColor": "#000000", "tickWidth": 1.1, "labels": false, "domain": true, "domainColor": "#000000", "domainWidth": 1.2, "zindex": 1}},
      "text": {"field": "sp"}
     }},
    {"data": {"name": "ann"}, "transform": [{"filter": "datum.p == 6"}], "mark": {"type": "text", "align": "left", "baseline": "alphabetic", "font": "Liberation Sans", "fontSize": 17.5, "color": "#1a1a1a"},
     "encoding": {
      "x": {"field": "aux", "type": "quantitative", "scale": {"domain": [7.9,25], "nice": false, "zero": false}, "axis": {"orient": "bottom", "title": ["NUMBER OF COSTAE/COSTELLAE IN", "10 MILLIMETERS AT 20 MILLIMETERS SL"], "titleFontSize": 23.5, "titleLineHeight": 24, "titlePadding": 14, "values": [7.9,9,10,11,12,13,14,15,16,17,18,19,20,21,22,23,24,25], "labelExpr": "datum.value < 8.5 ? '0' : datum.label", "grid": false, "ticks": true, "tickSize": -12, "tickColor": "#000000", "tickWidth": 1.1, "labels": true, "labelPadding": 22, "domain": false, "zindex": 1}},
      "y": {"field": "ay", "type": "quantitative", "scale": {"domain": [0,8], "nice": false, "zero": false}, "axis": {"orient": "left", "title": null, "values": [0,2,4,6,8], "grid": false, "ticks": true, "tickSize": -12, "tickColor": "#000000", "tickWidth": 1.1, "labels": true, "labelPadding": 22, "domain": true, "domainColor": "#000000", "domainWidth": 1.2, "zindex": 1}},
      "text": {"field": "au"}
     }},
    {"data": {"name": "ann"}, "transform": [{"filter": "datum.p == 6"}], "mark": {"type": "text", "align": "left", "baseline": "alphabetic", "font": "Liberation Sans", "fontSize": 17.5, "color": "#1a1a1a", "dy": 22},
     "encoding": {"x": {"field": "ax", "type": "quantitative", "scale": {"domain": [7.9,25], "nice": false, "zero": false}, "axis": null}, "y": {"field": "ay", "type": "quantitative", "scale": {"domain": [0,8], "nice": false, "zero": false}, "axis": null}, "text": {"field": "loc"}}},
    {"data": {"name": "ann"}, "transform": [{"filter": "datum.p == 6"}], "mark": {"type": "text", "align": "left", "baseline": "alphabetic", "font": "Liberation Serif", "fontStyle": "italic", "fontWeight": "bold", "fontSize": 20.5, "color": "#1a1a1a", "dy": 43},
     "encoding": {"x": {"field": "ax", "type": "quantitative", "scale": {"domain": [7.9,25], "nice": false, "zero": false}, "axis": null}, "y": {"field": "ay", "type": "quantitative", "scale": {"domain": [0,8], "nice": false, "zero": false}, "axis": null}, "text": {"value": "x̄"}}},
    {"data": {"name": "ann"}, "transform": [{"filter": "datum.p == 6"}], "mark": {"type": "text", "align": "left", "baseline": "alphabetic", "font": "Liberation Sans", "fontSize": 17.5, "color": "#1a1a1a", "dy": 43, "dx": 13},
     "encoding": {"x": {"field": "ax", "type": "quantitative", "scale": {"domain": [7.9,25], "nice": false, "zero": false}, "axis": null}, "y": {"field": "ay", "type": "quantitative", "scale": {"domain": [0,8], "nice": false, "zero": false}, "axis": null}, "text": {"field": "m"}}},
    {"data": {"name": "ann"}, "transform": [{"filter": "datum.p == 6"}], "mark": {"type": "text", "align": "left", "baseline": "alphabetic", "font": "Liberation Serif", "fontStyle": "italic", "fontWeight": "bold", "fontSize": 20.5, "color": "#1a1a1a", "dy": 43, "dx": 75},
     "encoding": {"x": {"field": "ax", "type": "quantitative", "scale": {"domain": [7.9,25], "nice": false, "zero": false}, "axis": null}, "y": {"field": "ay", "type": "quantitative", "scale": {"domain": [0,8], "nice": false, "zero": false}, "axis": null}, "text": {"value": "n"}}},
    {"data": {"name": "ann"}, "transform": [{"filter": "datum.p == 6"}], "mark": {"type": "text", "align": "left", "baseline": "alphabetic", "font": "Liberation Sans", "fontSize": 17.5, "color": "#1a1a1a", "dy": 43, "dx": 88},
     "encoding": {"x": {"field": "ax", "type": "quantitative", "scale": {"domain": [7.9,25], "nice": false, "zero": false}, "axis": null}, "y": {"field": "ay", "type": "quantitative", "scale": {"domain": [0,8], "nice": false, "zero": false}, "axis": null}, "text": {"field": "nn"}}},
    {"data": {"values": [{"y": 0}, {"y": 8}]}, "mark": {"type": "rule", "stroke": "white", "strokeWidth": 3},
     "encoding": {"x": {"datum": 8.43, "type": "quantitative", "scale": {"domain": [7.9,25], "nice": false, "zero": false}, "axis": null}, "x2": {"datum": 8.57}, "y": {"field": "y", "type": "quantitative", "scale": {"domain": [0,8], "nice": false, "zero": false}, "axis": null}}},
    {"data": {"values": [{"e":"b","x":8.43,"y":0},{"e":"b","x":8.47,"y":-0.22},{"e":"b","x":8.53,"y":0.25},{"e":"b","x":8.57,"y":0},{"e":"t","x":8.43,"y":8},{"e":"t","x":8.47,"y":7.78},{"e":"t","x":8.53,"y":8.25},{"e":"t","x":8.57,"y":8}]},
     "mark": {"type": "line", "stroke": "#000000", "strokeWidth": 1.1},
     "encoding": {"x": {"field": "x", "type": "quantitative", "scale": {"domain": [7.9,25], "nice": false, "zero": false}, "axis": null}, "y": {"field": "y", "type": "quantitative", "scale": {"domain": [0,8], "nice": false, "zero": false}, "axis": null}, "detail": {"field": "e"}}}
   ]
  }
 ],
 "config": {
  "view": {"stroke": null},
  "axis": {"labelFont": "Liberation Sans", "labelFontSize": 16.5, "labelColor": "#1a1a1a", "titleFont": "Liberation Sans", "titleFontSize": 23.5, "titleFontWeight": "normal", "titleColor": "#1a1a1a", "labelFlush": false, "labelOverlap": false}
 }
}
